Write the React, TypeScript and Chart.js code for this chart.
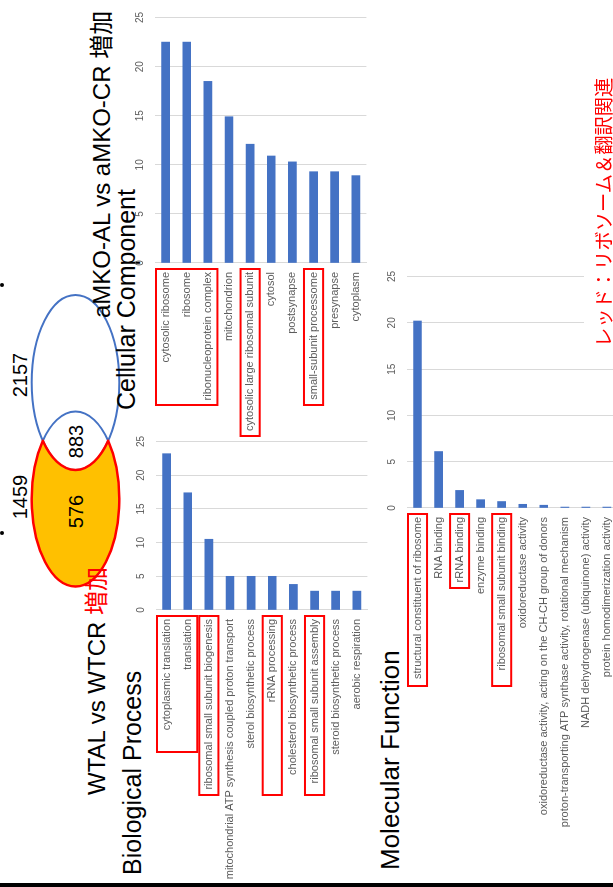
import React, { useEffect, useRef } from "react";
import { Chart, registerables } from "chart.js";

Chart.register(...registerables);

// GO enrichment (-log10 p) for the overlapping gene set
const ccLabels = [
  "cytosolic ribosome",
  "ribosome",
  "ribonucleoprotein complex",
  "mitochondrion",
  "cytosolic large ribosomal subunit",
  "cytosol",
  "postsynapse",
  "small-subunit processome",
  "presynapse",
  "cytoplasm",
];
const ccValues = [22.5, 22.5, 18.5, 14.9, 12.1, 10.9, 10.3, 9.3, 9.3, 8.9];

const bpLabels = [
  "cytoplasmic translation",
  "translation",
  "ribosomal small subunit biogenesis",
  "mitochondrial ATP synthesis coupled proton transport",
  "sterol biosynthetic process",
  "rRNA processing",
  "cholesterol biosynthetic process",
  "ribosomal small subunit assembly",
  "steroid biosynthetic process",
  "aerobic respiration",
];
const bpValues = [23.2, 17.4, 10.5, 5.0, 5.0, 5.0, 3.8, 2.8, 2.8, 2.8];

const mfLabels = [
  "structural constituent of ribosome",
  "RNA binding",
  "rRNA binding",
  "enzyme binding",
  "ribosomal small subunit binding",
  "oxidoreductase activity",
  "oxidoreductase activity, acting on the CH-CH group of donors",
  "proton-transporting ATP synthase activity, rotational mechanism",
  "NADH dehydrogenase (ubiquinone) activity",
  "protein homodimerization activity",
];
const mfValues = [20.2, 6.1, 1.9, 0.9, 0.7, 0.4, 0.3, 0.1, 0.1, 0.1];

const axisMax = 25;
const axisStep = 5;

// Venn counts
const wtTotal = "1459";
const mkoTotal = "2157";
const wtOnly = "576";
const shared = "883";

const FONT = "'Liberation Sans', Arial, 'Noto Sans CJK JP', sans-serif";
const BLUE = "#4472C4";
const RED = "#FF0000";
const GREY = "#595959";

type Area = { left: number; right: number; top: number; bottom: number };
type Box = { from: number; to: number; len: number };

function GoBar(props: {
  labels: string[];
  values: number[];
  area: Area;
  labelWidth: number;
  boxes: Box[];
}) {
  const { labels, values, area, labelWidth, boxes } = props;
  const ref = useRef<HTMLCanvasElement>(null);
  const axisH = 22;
  const padR = 14;
  const padB = 12;
  const W = Math.round(labelWidth + (area.right - area.left) + padR);
  const H = Math.round(axisH + (area.bottom - area.top) + padB);

  useEffect(() => {
    if (!ref.current) return;
    // red frames around highlighted category labels
    const boxPlugin = {
      id: "labelBoxes",
      afterDraw(chart: any) {
        const y = chart.scales.y;
        const ctx = chart.ctx;
        const half = (y.getPixelForValue(1) - y.getPixelForValue(0)) / 2;
        const right = chart.chartArea.left - 6;
        ctx.save();
        ctx.strokeStyle = RED;
        ctx.lineWidth = 2;
        boxes.forEach((b) => {
          const top = y.getPixelForValue(b.from) - half + 1;
          const bottom = y.getPixelForValue(b.to) + half - 1;
          ctx.strokeRect(right - b.len, top, b.len, bottom - top);
        });
        ctx.restore();
      },
    };
    const chart = new Chart(ref.current, {
      type: "bar",
      data: {
        labels,
        datasets: [{ data: values, backgroundColor: BLUE, barThickness: 8 }],
      },
      options: {
        indexAxis: "y",
        responsive: false,
        animation: false,
        layout: { padding: { left: 0, top: 0, right: padR, bottom: padB } },
        plugins: { legend: { display: false }, tooltip: { enabled: false } },
        scales: {
          x: {
            position: "top",
            min: 0,
            max: axisMax,
            ticks: {
              stepSize: axisStep,
              padding: 9,
              color: GREY,
              font: { family: FONT, size: 10 },
            },
            grid: { color: "#d9d9d9", drawTicks: false },
            border: { display: false },
            afterFit: (s: any) => {
              s.height = axisH;
            },
          },
          y: {
            ticks: {
              autoSkip: false,
              padding: 9,
              color: GREY,
              font: { family: FONT, size: 11 },
            },
            grid: { display: false, drawTicks: false },
            border: { color: "#d9d9d9" },
            afterFit: (s: any) => {
              s.width = labelWidth;
            },
          },
        },
      } as any,
      plugins: [boxPlugin],
    });
    return () => chart.destroy();
  }, []);

  return (
    <canvas
      ref={ref}
      width={W}
      height={H}
      style={{
        position: "absolute",
        left: area.left - labelWidth,
        top: area.top - axisH,
        width: W,
        height: H,
      }}
    />
  );
}

function Txt(props: {
  x: number;
  capTop: number;
  size: number;
  color?: string;
  children: React.ReactNode;
}) {
  const { x, capTop, size, color, children } = props;
  return (
    <div
      style={{
        position: "absolute",
        left: x,
        top: capTop - 0.13 * size,
        fontSize: size,
        lineHeight: 1,
        whiteSpace: "nowrap",
        color: color || "#000",
        fontFamily: FONT,
      }}
    >
      {children}
    </div>
  );
}

function Venn() {
  const rx = 87.5;
  const ry = 43.8;
  const cy = 75.5;
  const p1 = "446.25 42.82";
  const p2 = "446.25 108.18";
  return (
    <svg
      width={887}
      height={613}
      style={{ position: "absolute", left: 0, top: 0 }}
      fontFamily={FONT}
    >
      <ellipse cx={504.5} cy={cy} rx={rx} ry={ry} fill="#fff" stroke={BLUE} strokeWidth={2} />
      <path d={`M ${p1} A ${rx} ${ry} 0 0 1 ${p2}`} fill="none" stroke={BLUE} strokeWidth={2} />
      <path
        d={`M ${p1} A ${rx} ${ry} 0 1 0 ${p2} A ${rx} ${ry} 0 0 1 ${p1} Z`}
        fill="#FFC000"
        stroke={RED}
        strokeWidth={2.5}
        strokeLinejoin="round"
      />
      <text x={390} y={27.2} fontSize={20} textAnchor="middle">{wtTotal}</text>
      <text x={512} y={27.2} fontSize={20} textAnchor="middle">{mkoTotal}</text>
      <text x={375.5} y={83.2} fontSize={20} textAnchor="middle">{wtOnly}</text>
      <text x={445.5} y={83.2} fontSize={20} textAnchor="middle">{shared}</text>
      <circle cx={354} cy={2} r={2} fill="#000" />
      <circle cx={602} cy={2} r={2} fill="#000" />
    </svg>
  );
}

export default function App() {
  return (
    <div
      style={{
        position: "absolute",
        left: 0,
        top: 0,
        width: 613,
        height: 887,
        overflow: "hidden",
        background: "#fff",
      }}
    >
      <div
        style={{
          position: "absolute",
          left: 0,
          top: 0,
          width: 887,
          height: 613,
          overflow: "hidden",
          background: "#fff",
          transformOrigin: "0 0",
          transform: "translateY(887px) rotate(-90deg)",
        }}
      >
        <Venn />
        <Txt x={92} capTop={88.3} size={24}>
          WTAL vs WTCR <span style={{ color: RED }}>増加</span>
        </Txt>
        <Txt x={569} capTop={93.3} size={24}>
          aMKO-AL vs aMKO-CR 増加
        </Txt>
        <Txt x={477} capTop={117} size={25}>
          Cellular Component
        </Txt>
        <Txt x={12} capTop={123.3} size={25}>
          Biological Process
        </Txt>
        <Txt x={17} capTop={380} size={26}>
          Molecular Function
        </Txt>

        <GoBar
          labels={ccLabels}
          values={ccValues}
          area={{ left: 624, right: 870, top: 155, bottom: 370 }}
          labelWidth={185}
          boxes={[
            { from: 0, to: 2, len: 136 },
            { from: 4, to: 4, len: 167 },
            { from: 7, to: 7, len: 136 },
          ]}
        />
        <GoBar
          labels={bpLabels}
          values={bpValues}
          area={{ left: 277, right: 446, top: 156, bottom: 371 }}
          labelWidth={277}
          boxes={[
            { from: 0, to: 1, len: 136 },
            { from: 2, to: 2, len: 179 },
            { from: 5, to: 5, len: 179 },
            { from: 7, to: 7, len: 179 },
          ]}
        />
        <GoBar
          labels={mfLabels}
          values={mfValues}
          area={{ left: 379, right: 611, top: 407, bottom: 621 }}
          labelWidth={355}
          boxes={[
            { from: 0, to: 0, len: 172 },
            { from: 2, to: 2, len: 74 },
            { from: 4, to: 4, len: 172 },
          ]}
        />

        <div
          style={{
            position: "absolute",
            left: 528,
            top: 584,
            width: 310,
            height: 32,
            background: "#fff",
          }}
        />
        <div
          style={{
            position: "absolute",
            left: 540,
            top: 594,
            fontSize: 19.3,
            lineHeight: 1,
            whiteSpace: "nowrap",
            color: RED,
            fontFamily: "'Noto Sans CJK JP', sans-serif",
          }}
        >
          レッド：リボソーム＆翻訳関連
        </div>
        <div
          style={{
            position: "absolute",
            left: 0,
            top: 0,
            width: 4,
            height: 613,
            background: "#000",
          }}
        />
      </div>
    </div>
  );
}
